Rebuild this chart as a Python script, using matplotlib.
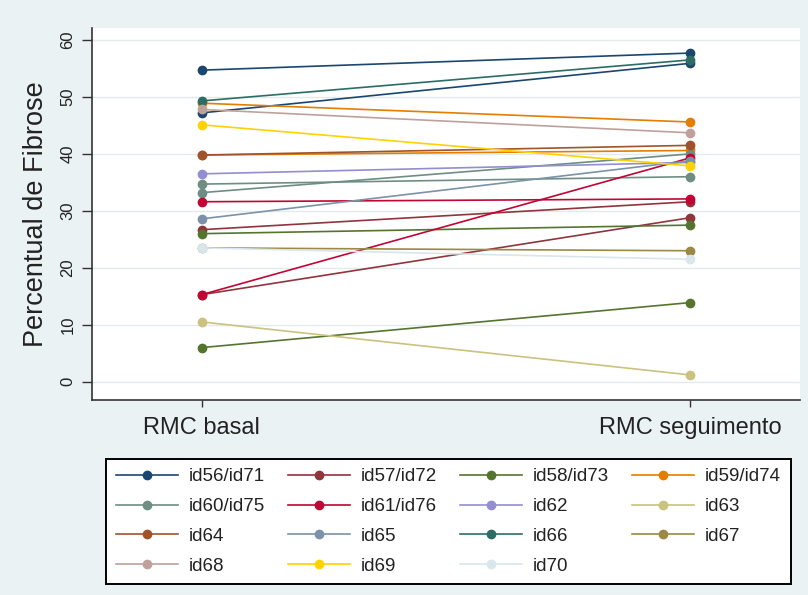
# ============================================================
# Percentual de Fibrose - RMC basal vs RMC seguimento
# ============================================================

import matplotlib
matplotlib.use("Agg")
import matplotlib.pyplot as plt

plt.rcParams["font.family"] = ["Liberation Sans", "DejaVu Sans"]

# ============================================================
# Data
# ============================================================

time_labels = ["RMC basal", "RMC seguimento"]
time_x = [1, 2]

series_names = [
    "id56/id71", "id57/id72", "id58/id73", "id59/id74",
    "id60/id75", "id61/id76", "id62", "id63",
    "id64", "id65", "id66", "id67",
    "id68", "id69", "id70",
]

# basal value, seguimento value (paired ids have two segments)
series_basal = [
    [54.7, 47.2], [15.3, 26.7], [6.0, 26.0], [48.9, 39.8],
    [34.7, 33.2], [31.6, 15.3], [36.5], [10.5],
    [39.8], [28.6], [49.3], [23.5],
    [47.8], [45.1], [23.5],
]
series_followup = [
    [57.7, 55.9], [28.8, 31.6], [13.9, 27.5], [45.6, 40.6],
    [36.0, 40.0], [32.1, 39.3], [38.5], [1.2],
    [41.5], [38.8], [56.5], [23.0],
    [43.7], [37.9], [21.5],
]

# Stata s2color palette
series_colors = [
    "#1a476f", "#90353b", "#55752f", "#e37e00",
    "#6e8e84", "#c10534", "#938dd2", "#cac27e",
    "#a0522d", "#7b92a8", "#2d6d66", "#9c8847",
    "#bfa19c", "#ffd200", "#d9e6eb",
]

y_ticks = [0, 10, 20, 30, 40, 50, 60]

# ============================================================
# Figure
# ============================================================

fig = plt.figure(figsize=(8.08, 5.95), dpi=100, facecolor="#eaf2f3")
ax = fig.add_axes([92 / 808, 1 - 400 / 595, 708 / 808, 372 / 595])
ax.set_facecolor("white")

handles = []
for name, basal, follow, color in zip(series_names, series_basal,
                                      series_followup, series_colors):
    for k, (b, f) in enumerate(zip(basal, follow)):
        line, = ax.plot(time_x, [b, f], color=color, lw=1.2,
                        marker="o", markersize=6,
                        label=name if k == 0 else "_nolegend_")
        if k == 0:
            handles.append(line)

ax.set_xlim(0.775, 2.225)
ax.set_ylim(-3.2, 62.1)

ax.set_yticks(y_ticks)
ax.set_yticklabels([str(v) for v in y_ticks], rotation=90, va="center",
                   fontsize=12, color="#222222")
ax.set_xticks(time_x)
ax.set_xticklabels(time_labels, fontsize=17, color="#222222")
ax.tick_params(axis="y", length=7, width=1, color="#333333", pad=5)
ax.tick_params(axis="x", length=5, width=1, color="#333333", pad=7)

ax.set_ylabel("Percentual de Fibrose", fontsize=19.5, color="#222222",
              labelpad=8)

ax.grid(axis="y", color="#e2eaec", lw=1)
ax.set_axisbelow(True)

for side in ["top", "right"]:
    ax.spines[side].set_visible(False)
ax.spines["left"].set_color("#333333")
ax.spines["bottom"].set_color("#333333")
ax.spines["left"].set_linewidth(1.2)
ax.spines["bottom"].set_linewidth(1.2)

# ============================================================
# Legend (row-wise order like Stata)
# ============================================================

ncol = 4
order = []
for c in range(ncol):
    order += list(range(c, len(handles), ncol))

leg = fig.legend(
    [handles[i] for i in order],
    [series_names[i] for i in order],
    ncol=ncol,
    loc="center",
    bbox_to_anchor=(97 / 808, 1 - 585 / 595, 703 / 808, 127 / 595),
    mode="expand",
    fontsize=13.5,
    handlelength=3.3,
    handletextpad=0.6,
    labelspacing=0.68,
    borderpad=0.5,
    fancybox=False,
    frameon=True,
    edgecolor="black",
    facecolor="white",
    framealpha=1,
)
leg.get_frame().set_linewidth(1.4)
for t in leg.get_texts():
    t.set_color("#222222")

fig.savefig("out.png", dpi=100, facecolor=fig.get_facecolor())
